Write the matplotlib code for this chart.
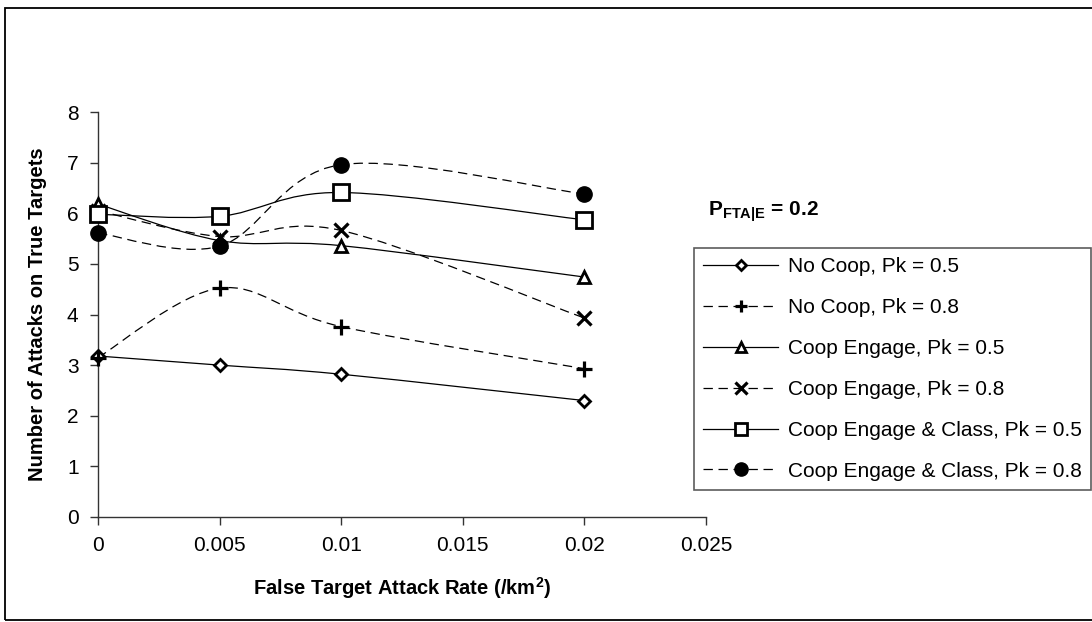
import matplotlib
matplotlib.use("Agg")
import matplotlib.pyplot as plt
from matplotlib.path import Path
from matplotlib.patches import PathPatch, Rectangle
from matplotlib.lines import Line2D
import numpy as np

plt.rcParams['font.family'] = ['Liberation Sans', 'DejaVu Sans']
plt.rcParams['mathtext.fontset'] = 'custom'
plt.rcParams['mathtext.rm'] = 'Liberation Sans'
plt.rcParams['mathtext.bf'] = 'Liberation Sans:bold'

# ---- data ----
x_rate = [0.0, 0.005, 0.01, 0.02]
no_coop_05 = [3.18, 3.00, 2.82, 2.30]
no_coop_08 = [3.15, 4.52, 3.76, 2.93]
coop_eng_05 = [6.18, 5.46, 5.36, 4.74]
coop_eng_08 = [6.05, 5.54, 5.66, 3.93]
coop_cls_05 = [5.98, 5.94, 6.41, 5.87]
coop_cls_08 = [5.61, 5.35, 6.96, 6.38]
labels = ["No Coop, Pk = 0.5", "No Coop, Pk = 0.8",
          "Coop Engage, Pk = 0.5", "Coop Engage, Pk = 0.8",
          "Coop Engage & Class, Pk = 0.5", "Coop Engage & Class, Pk = 0.8"]
x_ticks = [0, 0.005, 0.01, 0.015, 0.02, 0.025]
x_ticklabels = ["0", "0.005", "0.01", "0.015", "0.02", "0.025"]
y_ticks = [0, 1, 2, 3, 4, 5, 6, 7, 8]

series = [no_coop_05, no_coop_08, coop_eng_05, coop_eng_08, coop_cls_05, coop_cls_08]
DASH = (0, (7.5, 4.5))
styles = [
    dict(ls='-', marker='D', ms=6.5, lms=5.5, mfc='white', mew=2.0),
    dict(ls=DASH, marker='+', ms=11, lms=9, mfc='none', mew=2.3),
    dict(ls='-', marker='^', ms=9, lms=7.5, mfc='white', mew=2.0),
    dict(ls=DASH, marker='x', ms=9.5, lms=8, mfc='none', mew=2.3),
    dict(ls='-', marker='s', ms=11, lms=8.5, mfc='white', mew=2.0),
    dict(ls=DASH, marker='o', ms=11, lms=9.5, mfc='black', mew=1.0),
]


def smooth_path(xs, ys):
    """Excel-style smoothed line (Catmull-Rom Bezier) through the data points."""
    P = np.column_stack([xs, ys]).astype(float)
    n = len(P)
    verts = [P[0]]
    codes = [Path.MOVETO]
    for i in range(n - 1):
        p0 = P[i - 1] if i > 0 else P[i]
        p1 = P[i]
        p2 = P[i + 1]
        p3 = P[i + 2] if i + 2 < n else P[i + 1]
        c1 = p1 + (p2 - p0) / 6.0
        c2 = p2 - (p3 - p1) / 6.0
        verts += [c1, c2, p2]
        codes += [Path.CURVE4] * 3
    return Path(verts, codes)


W, H = 1092, 622
fig = plt.figure(figsize=(W / 100, H / 100), dpi=100)
ax = fig.add_axes([98 / W, 1 - 517 / H, (706 - 98) / W, (517 - 112) / H])

handles = []
for ys, st, lab in zip(series, styles, labels):
    patch = PathPatch(smooth_path(x_rate, ys), facecolor='none', edgecolor='black',
                      lw=0.9, linestyle=st['ls'], zorder=2)
    ax.add_patch(patch)
    ax.plot(x_rate, ys, linestyle='none', marker=st['marker'], ms=st['ms'],
            mfc=st['mfc'], mec='black', mew=st['mew'], zorder=3, clip_on=False)
    handles.append(Line2D([], [], color='black', lw=0.9, linestyle=st['ls'],
                          marker=st['marker'], ms=st['lms'], mfc=st['mfc'],
                          mec='black', mew=st['mew'], label=lab))

ax.set_xlim(0, 0.025)
ax.set_ylim(0, 8)
ax.set_xticks(x_ticks)
ax.set_xticklabels(x_ticklabels)
ax.set_yticks(y_ticks)
for s in ['top', 'right']:
    ax.spines[s].set_visible(False)
for s in ['left', 'bottom']:
    ax.spines[s].set_linewidth(1.0)
    ax.spines[s].set_color('#333333')
ax.tick_params(direction='out', length=6, width=1.0, labelsize=15, pad=8, color='#333333')

ax.set_xlabel(r"False Target Attack Rate (/km$^{\mathbf{2}}$)", fontsize=14.5,
              fontweight='bold', labelpad=14)
ax.set_ylabel("Number of Attacks on True Targets", fontsize=14.5,
              fontweight='bold', labelpad=14)

fig.text(708 / W, 1 - 212 / H, r"$\mathbf{P_{FTA|E}}$" + " = 0.2", fontsize=15,
         fontweight='bold', va='center', ha='left')

leg = fig.legend(handles=handles, loc='upper left',
                 bbox_to_anchor=(694 / W, 1 - 248 / H), fontsize=15,
                 frameon=True, fancybox=False, shadow=False, borderaxespad=0,
                 borderpad=0.45, handlelength=3.6, handletextpad=0.45,
                 labelspacing=1.05)
leg.get_frame().set_edgecolor('#333333')
leg.get_frame().set_linewidth(1.2)

fig.patches.append(Rectangle((5 / W, 1 - 620 / H), 1.2, (620 - 8) / H,
                             transform=fig.transFigure, fill=False,
                             edgecolor='black', lw=1.3))

fig.savefig("out.png", dpi=100)
